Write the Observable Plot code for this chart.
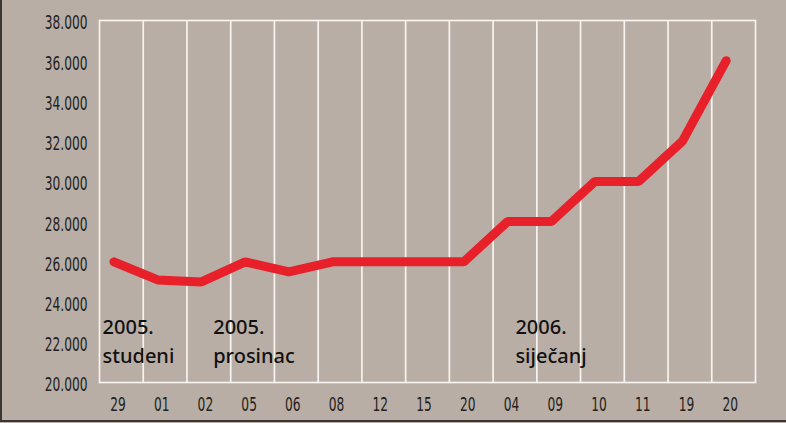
<!DOCTYPE html>
<html>
<head>
<meta charset="utf-8">
<script src="https://cdn.jsdelivr.net/npm/d3@7"></script>
<script src="https://cdn.jsdelivr.net/npm/@observablehq/plot@0.6"></script>
<style>
  html, body { margin: 0; padding: 0; background: #b9aea5; overflow: hidden; }
  #chart { position: relative; width: 786px; height: 423px; }
  #frame { position: absolute; left: 0; top: 0; width: 786px; height: 422px; box-sizing: border-box;
           border-left: 2px solid #3a3532; border-bottom: 2px solid #3a3532; pointer-events: none; }
</style>
</head>
<body>
<div id="chart"><div id="frame"></div></div>
<script>
// Categories (day of month), Nov 2005 – Jan 2006
const categories = ["29", "01", "02", "05", "06", "08", "12", "15", "20", "04", "09", "10", "11", "19", "20"];
// Values
const values = [26000, 25100, 25000, 26000, 25500, 26000, 26000, 26000, 26000, 28000, 28000, 30000, 30000, 32000, 36000];
// Y ticks
const yTicks = [20000, 22000, 24000, 26000, 28000, 30000, 32000, 34000, 36000, 38000];
// Month annotations
const annotYear = ["2005.", "2005.", "2006."];
const annotMonth = ["studeni", "prosinac", "siječanj"];
const annotPos = [-0.26, 2.27, 9.18];   // in category-index units
const annotValue = [22150, 22150, 22150];

const offset = 0.33; // points sit left of band centre
const data = values.map((v, i) => ({i, v, label: categories[i]}));
const bounds = d3.range(1, categories.length).map(k => k - offset);
const annots = annotYear.map((y, k) => ({x: annotPos[k], y: annotValue[k], text: y + "\n" + annotMonth[k]}));

const locale = d3.formatLocale({decimal: ",", thousands: ".", grouping: [3], currency: ["", ""]});
const fmt = locale.format(",.0f");
const tickFont = "'DejaVu Sans Condensed', 'Noto Sans', sans-serif";

const chart = Plot.plot({
  width: 786,
  height: 423,
  marginLeft: 99,
  marginRight: 31,
  marginTop: 20,
  marginBottom: 41,
  style: {background: "transparent", color: "#2b2624", fontFamily: tickFont, fontSize: "17px", overflow: "visible"},
  x: {domain: [-offset, categories.length - offset], axis: null},
  y: {domain: [20000, 38000], axis: null},
  marks: [
    Plot.ruleX(bounds, {x: d => d, y1: 20000, y2: 38000, stroke: "#f7f3ee", strokeWidth: 1.7}),
    Plot.frame({stroke: "#f7f3ee", strokeWidth: 1.7}),
    Plot.axisY(yTicks, {tickSize: 0, tickPadding: 12, tickFormat: fmt, fontSize: 20, fontWeight: 500, fill: "#231f1d", dy: 2.5}),
    Plot.axisX(data.map(d => d.i), {tickSize: 0, tickPadding: 14, tickFormat: i => categories[i], fontSize: 20, fontWeight: 500, fill: "#231f1d", dx: 4}),
    Plot.text(annots, {x: "x", y: "y", text: "text", textAnchor: "start", lineHeight: 1.45,
      fontSize: 20, fontWeight: 500, fill: "#111", fontFamily: "'Noto Sans', 'DejaVu Sans', sans-serif"}),
    Plot.line(data, {x: "i", y: "v", stroke: "#e8202a", strokeWidth: 9, strokeLinecap: "round", strokeLinejoin: "miter"})
  ]
});
// condense tick label glyphs horizontally (the reference uses a narrow face)
chart.querySelectorAll('g[aria-label="y-axis tick label"] text, g[aria-label="x-axis tick label"] text').forEach(t => {
  t.setAttribute("transform", (t.getAttribute("transform") || "") + " scale(0.68,1)");
});
document.getElementById("chart").prepend(chart);
</script>
</body>
</html>
